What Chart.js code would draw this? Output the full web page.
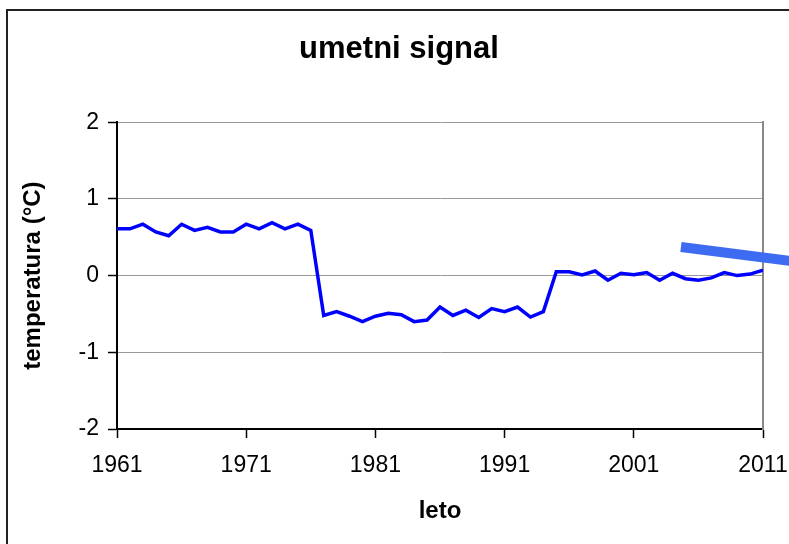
<!DOCTYPE html>
<html>
<head>
<meta charset="utf-8">
<script src="https://cdn.jsdelivr.net/npm/chart.js@4.4.0/dist/chart.umd.min.js"></script>
<style>
  body{margin:0;background:#fff;}
  #marco{position:absolute;left:0;top:0;width:789px;height:544px;overflow:hidden;}
  #borde{position:absolute;left:6px;top:9px;width:1000px;height:1000px;border:2px solid #222;}
  #grafica{position:absolute;left:0;top:0;}
</style>
</head>
<body>
<div id="marco">
  <div id="borde"></div>
  <canvas id="grafica" width="789" height="544"></canvas>
</div>
<script>
// datos
const leta=[1961,1962,1963,1964,1965,1966,1967,1968,1969,1970,
  1971,1972,1973,1974,1975,1976,1977,1978,1979,1980,
  1981,1982,1983,1984,1985,1986,1987,1988,1989,1990,
  1991,1992,1993,1994,1995,1996,1997,1998,1999,2000,
  2001,2002,2003,2004,2005,2006,2007,2008,2009,2010,2011];
const temperatura=[0.61,0.61,0.67,0.57,0.52,0.67,0.59,0.63,0.57,0.57,
  0.67,0.61,0.69,0.61,0.67,0.59,-0.52,-0.47,-0.53,-0.60,
  -0.53,-0.49,-0.51,-0.60,-0.58,-0.41,-0.52,-0.45,-0.545,-0.43,
  -0.47,-0.41,-0.54,-0.47,0.05,0.05,0.01,0.06,-0.06,0.03,
  0.01,0.04,-0.06,0.03,-0.04,-0.06,-0.03,0.04,0.00,0.02,0.07];
// debela modra crta (puscica) desno zgoraj
const crtaX=[2004.65,2013.9];
const crtaY=[0.373,0.175];
const yTicks=[-2,-1,0,1,2];
const xTicks=[1961,1971,1981,1991,2001,2011];

const pisava="'Liberation Sans', Arial, sans-serif";
Chart.defaults.font.family=pisava;
Chart.defaults.color="#000";

const ctx=document.getElementById("grafica").getContext("2d");

new Chart(ctx,{
  type:'line',
  data:{
    datasets:[
      {
        data:leta.map((l,i)=>({x:l,y:temperatura[i]})),
        borderColor:'#0000ff',
        borderWidth:3.5,
        pointRadius:0,
        tension:0
      },
      {
        data:crtaX.map((x,i)=>({x:x,y:crtaY[i]})),
        borderColor:'#3d6bf2',
        borderWidth:10,
        borderCapStyle:'butt',
        pointRadius:0,
        clip:false
      }
    ]
  },
  options:{
    responsive:false,
    animation:false,
    devicePixelRatio:1,
    layout:{padding:{left:9,right:0,top:0,bottom:0}},
    plugins:{
      legend:{display:false},
      tooltip:{enabled:false},
      title:{
        display:true,
        text:'umetni signal',
        font:{size:31,weight:'bold'},
        padding:{top:31,bottom:54}
      }
    },
    scales:{
      x:{
        type:'linear',
        min:1961,max:2011,
        afterBuildTicks:s=>{s.ticks=xTicks.map(v=>({value:v}));},
        afterFit:s=>{s.height=115;s.paddingRight=26;},
        ticks:{font:{size:23},padding:14,maxRotation:0,callback:v=>String(v)},
        grid:{drawOnChartArea:false,tickLength:9,tickColor:'#000',tickWidth:1.5},
        border:{color:'#000',width:2},
        title:{display:true,text:'leto',font:{size:24,weight:'bold'},padding:{top:0,bottom:18}}
      },
      y:{
        min:-2,max:2,
        afterBuildTicks:s=>{s.ticks=yTicks.map(v=>({value:v}));},
        afterFit:s=>{s.width=108;},
        ticks:{font:{size:23},padding:9},
        grid:{color:'#999',borderDash:[1,1],lineWidth:1,tickLength:9,tickColor:'#000',tickWidth:1.5,tickBorderDash:[]},
        border:{color:'#000',width:2},
        title:{display:true,text:'temperatura (°C)',font:{size:24,weight:'bold'},padding:{top:10,bottom:0}}
      },
      desno:{
        position:'right',
        min:-2,max:2,
        ticks:{display:false},
        grid:{drawOnChartArea:false,drawTicks:false},
        border:{color:'#888',width:2},
        afterFit:s=>{s.width=0;}
      }
    }
  }
});
</script>
</body>
</html>
